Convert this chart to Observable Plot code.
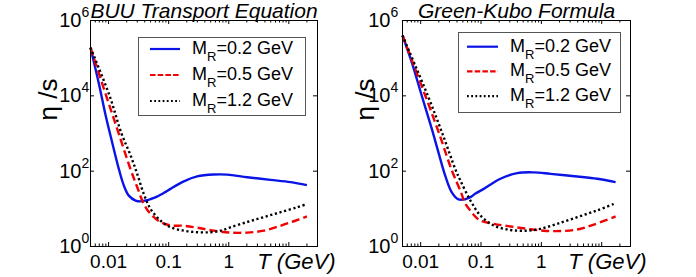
<!DOCTYPE html>
<html><head><meta charset="utf-8">
<script src="https://cdn.jsdelivr.net/npm/d3@7"></script>
<script src="https://cdn.jsdelivr.net/npm/@observablehq/plot@0.6"></script>
<style>
html,body{margin:0;padding:0;background:#fff;}
#wrap{display:flex;width:696px;height:277px;overflow:hidden;}
#wrap svg{overflow:visible;}
</style></head><body><div id="wrap"></div>
<script>
// ---------- data (T in GeV, eta/s) ----------
// BUU Transport Equation panel
const buuT_02 = [0.005, 0.0069, 0.0089, 0.0115, 0.0148, 0.0179, 0.0217, 0.0281, 0.034, 0.041, 0.05, 0.064, 0.089, 0.107, 0.179, 0.298, 0.564, 0.94, 2.03, 4.95, 10.7, 20];
const buuV_02 = [1.9e5, 21000, 3100, 570, 115, 42, 22.4, 16.6, 15.8, 16.6, 18.2, 21, 28.2, 33.9, 53.7, 72.4, 81.3, 81, 69.2, 58.9, 51.3, 42.7];
const buuT_05 = [0.005, 0.0091, 0.0148, 0.0232, 0.0299, 0.0385, 0.0498, 0.073, 0.107, 0.179, 0.298, 0.564, 1.07, 2.03, 3.83, 7.26, 12.1, 20];
const buuV_05 = [1.9e5, 10200, 980, 112, 38, 13.5, 7.4, 4.47, 3.63, 3.55, 3.16, 2.63, 2.34, 2.34, 2.63, 3.55, 4.68, 6.3];
const buuT_12 = [0.005, 0.01035, 0.0164, 0.0232, 0.0299, 0.0385, 0.0498, 0.073, 0.107, 0.179, 0.298, 0.497, 0.728, 1.07, 2.03, 3.83, 7.26, 13.8, 20];
const buuV_12 = [1.9e5, 10200, 1000, 263, 85, 25, 10, 4.9, 3.24, 2.63, 2.4, 2.4, 2.63, 3.24, 4.47, 6.03, 8.13, 11, 13.5];
// Green-Kubo Formula panel
const gkT_02 = [0.005, 0.00713, 0.0104, 0.0153, 0.0197, 0.0255, 0.0328, 0.0423, 0.0546, 0.0668, 0.08, 0.111, 0.21, 0.397, 0.749, 1.42, 3.92, 8.41, 17];
const gkV_02 = [4e5, 77600, 10200, 1320, 316, 76, 27.5, 17.8, 18, 20.4, 25, 33.9, 63, 89, 93, 85, 72.4, 63, 51.3];
const gkT_05 = [0.005, 0.0119, 0.0203, 0.0328, 0.0456, 0.0546, 0.0668, 0.08, 0.098, 0.163, 0.308, 0.582, 1.1, 2.07, 3.92, 7.38, 17];
const gkV_05 = [4e5, 10200, 980, 105, 30, 14, 8.9, 6.3, 4.9, 4.0, 3.4, 2.95, 2.63, 2.57, 2.82, 3.8, 6.3];
const gkT_12 = [0.005, 0.0131, 0.023, 0.0382, 0.0456, 0.0668, 0.098, 0.163, 0.308, 0.582, 0.967, 1.83, 3.92, 8.41, 17];
const gkV_12 = [4e5, 10200, 977, 105, 56, 16.6, 6.6, 3.6, 2.75, 2.63, 2.95, 4.0, 6.0, 9.1, 14.1];

const legendMass = ["0.2", "0.5", "1.2"];
const panelTitles = ["BUU Transport Equation", "Green-Kubo Formula"];
const xTickValues = [0.01, 0.1, 1, 10];
const xTickLabels = ["0.01", "0.1", "1", ""];
const yTickValues = [1, 1e2, 1e4, 1e6];
const yTickExp = ["0", "2", "4", "6"];
const xLabel = "T (GeV)";
const yLabel = "η /s";

// ---------- styles ----------
const FONT = "'Liberation Sans', Arial, Helvetica, sans-serif";
const seriesStyle = [
  {stroke: "#0a14e6", dash: null, legendDash: null},
  {stroke: "#f00000", dash: "8,4", legendDash: "5.5,2.2"},
  {stroke: "#000000", dash: "2.2,2.6", legendDash: "1.8,2.4"}
];

const xMinor = [];
for (let e = -3; e <= 1; e++) for (let k = 2; k <= 9; k++) {
  const v = k * Math.pow(10, e);
  if (v >= 0.005 && v <= 30) xMinor.push(v);
}

function table(T, V) { return T.map((t, i) => ({T: t, v: V[i]})); }

function panel(cfg) {
  const W = 348, H = 277;
  const m = cfg.margin;
  const innerW = W - m.left - m.right, innerH = H - m.top - m.bottom;
  const marks = [];
  cfg.series.forEach((s, i) => {
    const st = seriesStyle[i];
    marks.push(Plot.line(s, {x: "T", y: "v", stroke: st.stroke, strokeWidth: 2.4,
      strokeDasharray: st.dash, strokeLinecap: "butt", curve: "catmull-rom"}));
  });
  // inward ticks
  marks.push(Plot.tickX(xMinor, {x: d => d, insetTop: innerH - 2.5, stroke: "black"}));
  marks.push(Plot.tickX(xMinor, {x: d => d, insetBottom: innerH - 2.5, stroke: "black"}));
  marks.push(Plot.tickX(xTickValues, {x: d => d, insetTop: innerH - 4, stroke: "black"}));
  marks.push(Plot.tickX(xTickValues, {x: d => d, insetBottom: innerH - 4, stroke: "black"}));
  marks.push(Plot.tickY(yTickValues, {y: d => d, insetRight: innerW - 4, stroke: "black"}));
  marks.push(Plot.tickY(yTickValues, {y: d => d, insetLeft: innerW - 4, stroke: "black"}));
  marks.push(Plot.frame({stroke: "black", strokeWidth: 1}));
  // tick labels
  marks.push(Plot.text(xTickValues, {x: d => d, text: (d, i) => xTickLabels[i], frameAnchor: "bottom",
    dy: 21, lineAnchor: "bottom", fontSize: 19, fill: "black"}));
  marks.push(Plot.text(yTickValues, {y: d => d, text: () => "10", frameAnchor: "left",
    dx: cfg.yTickDx, textAnchor: "end", lineAnchor: "middle", fontSize: 20, fill: "black"}));
  marks.push(Plot.text(yTickValues, {y: d => d, text: (d, i) => yTickExp[i], frameAnchor: "left",
    dx: cfg.yTickDx, dy: -8, textAnchor: "start", lineAnchor: "middle", fontSize: 14, fill: "black"}));
  // labels & title
  marks.push(Plot.text([cfg.title], {frameAnchor: "top", dy: -3, lineAnchor: "bottom",
    fontSize: 21, fontStyle: "italic", fill: "black"}));
  marks.push(Plot.text([xLabel], {frameAnchor: "bottom-right", dx: cfg.xLabelDx, dy: 22, textAnchor: "end",
    lineAnchor: "bottom", fontSize: 22, fontStyle: "italic", fill: "black"}));
  marks.push(Plot.text([yLabel], {frameAnchor: "left", dx: cfg.yLabelDx, dy: -13, rotate: -90,
    fontSize: 26, fill: "black"}));

  const svg = Plot.plot({
    width: W, height: H,
    marginLeft: m.left, marginRight: m.right, marginTop: m.top, marginBottom: m.bottom,
    x: {type: "log", domain: [0.005, 30], axis: null},
    y: {type: "log", domain: [1, 1e6], axis: null},
    style: {fontFamily: FONT, background: "white", overflow: "visible"},
    marks
  });

  // legend
  const L = cfg.legend;
  const g = d3.select(svg).append("g").attr("font-family", FONT).attr("text-anchor", "start");
  const x0 = m.left + L.insetLeft, y0 = m.top + L.insetTop;
  g.append("rect").attr("x", x0 + 0.5).attr("y", y0 + 0.5).attr("width", L.w).attr("height", L.h)
    .attr("fill", "white").attr("stroke", "#555").attr("stroke-width", 1);
  legendMass.forEach((mass, i) => {
    const yy = y0 + L.row0 + i * L.step;
    const st = seriesStyle[i];
    g.append("line").attr("x1", x0 + L.lineX0).attr("x2", x0 + L.lineX1).attr("y1", yy).attr("y2", yy)
      .attr("stroke", st.stroke).attr("stroke-width", 2.2)
      .attr("stroke-dasharray", st.legendDash);
    const t = g.append("text").attr("x", x0 + L.textX).attr("y", yy + 5)
      .attr("font-size", 18).attr("fill", "black").attr("text-anchor", "start");
    t.append("tspan").text("M");
    t.append("tspan").attr("font-size", 13).attr("dy", 7).text("R");
    t.append("tspan").attr("dy", -7).text("=" + mass + " GeV");
  });
  return svg;
}

const wrap = document.getElementById("wrap");
wrap.appendChild(panel({
  title: panelTitles[0],
  margin: {left: 90, right: 31, top: 20, bottom: 31},
  series: [table(buuT_02, buuV_02), table(buuT_05, buuV_05), table(buuT_12, buuV_12)],
  yTickDx: -9, xLabelDx: 18, yLabelDx: -42,
  legend: {insetLeft: 48, insetTop: 17, w: 167, h: 78, row0: 12, step: 26, lineX0: 12, lineX1: 42, textX: 54}
}));
wrap.appendChild(panel({
  title: panelTitles[1],
  margin: {left: 54, right: 66, top: 20, bottom: 31},
  series: [table(gkT_02, gkV_02), table(gkT_05, gkV_05), table(gkT_12, gkV_12)],
  yTickDx: -12, xLabelDx: 16, yLabelDx: -37,
  legend: {insetLeft: 56, insetTop: 12, w: 162, h: 80, row0: 14.7, step: 24.7, lineX0: 9, lineX1: 40, textX: 52}
}));
</script></body></html>
